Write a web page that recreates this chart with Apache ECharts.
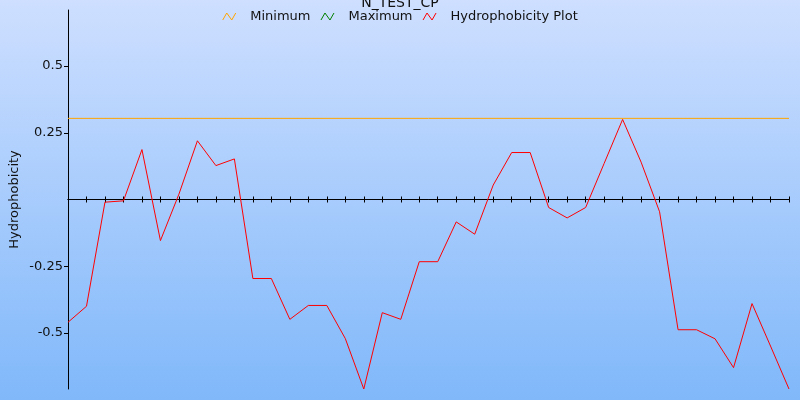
<!DOCTYPE html>
<html>
<head>
<meta charset="utf-8">
<script src="https://cdn.jsdelivr.net/npm/echarts@6/dist/echarts.min.js"></script>
<style>
html,body{margin:0;padding:0;}
#chart{width:800px;height:400px;}
</style>
</head>
<body>
<div id="chart"></div>
<script>
var titleText = 'N_TEST_CP';
var seriesNames = ['Minimum', 'Maximum', 'Hydrophobicity Plot'];
var positions = [1,2,3,4,5,6,7,8,9,10,11,12,13,14,15,16,17,18,19,20,21,22,23,24,25,26,27,28,29,30,31,32,33,34,35,36,37,38,39,40];
var hydrophobicity = [-0.46, -0.40, -0.01, -0.005, 0.187, -0.154, 0.02, 0.22, 0.127, 0.152,
  -0.296, -0.296, -0.449, -0.397, -0.397, -0.521, -0.71, -0.424, -0.449, -0.233,
  -0.233, -0.084, -0.130, 0.054, 0.176, 0.176, -0.030, -0.069, -0.030, 0.135,
  0.30, 0.14, -0.046, -0.488, -0.488, -0.522, -0.63, -0.39, -0.549, -0.71];
var minimumValue = 0.304;
var yMin = -0.71, yMax = 0.71;
var yTickValues = [-0.5, -0.25, 0.25, 0.5];
var yTickLabels = ['-0.5', '-0.25', '0.25', '0.5'];
var colors = ['#ffa500', '#008000', '#ff0000'];

var FONT = 'DejaVu Sans';
var zig = 'path://M0,7 L4,0 L9,7 L13,0';
var chart = echarts.init(document.getElementById('chart'));
function xAxisOf(pos) {
  return {
    type: 'category', data: positions, boundaryGap: false, position: pos,
    axisLine: {onZero: true, onZeroAxisIndex: 0, lineStyle: {color: '#000', width: 1}},
    axisTick: {show: true, interval: 0, length: 3, lineStyle: {color: '#000'}},
    axisLabel: {show: false}, splitLine: {show: false}
  };
}
var lastIndex = positions.length - 1;
chart.setOption({
  animation: false,
  backgroundColor: new echarts.graphic.LinearGradient(0, 0, 0, 1, [
    {offset: 0, color: '#cedfff'}, {offset: 1, color: '#80b8fa'}
  ]),
  title: {text: titleText, left: 'center', top: -4, padding: 0,
    textStyle: {fontFamily: FONT, fontSize: 14, fontWeight: 'normal', color: '#111'}},
  legend: {
    top: 10, left: 'center', padding: 0, itemGap: 10, itemWidth: 32, itemHeight: 7,
    icon: zig,
    textStyle: {fontFamily: FONT, fontSize: 13, color: '#111'},
    data: seriesNames.map(function (n, i) {
      return {name: n, icon: zig, itemStyle: {color: 'transparent', borderColor: colors[i], borderWidth: 1}};
    })
  },
  grid: {left: 68, right: 11, top: 10, bottom: 11, containLabel: false, outerBoundsMode: 'none'},
  xAxis: [xAxisOf('bottom'), xAxisOf('top')],
  yAxis: {
    type: 'value', min: yMin, max: yMax,
    name: 'Hydrophobicity', nameLocation: 'middle', nameGap: 47, nameMoveOverlap: false,
    nameTextStyle: {fontFamily: FONT, fontSize: 13, color: '#111'},
    axisLine: {show: true, onZero: false, lineStyle: {color: '#000', width: 1}},
    axisTick: {show: true, length: 4, customValues: yTickValues, lineStyle: {color: '#000'}},
    axisLabel: {show: true, customValues: yTickValues, margin: 5,
      fontFamily: FONT, fontSize: 13, color: '#111',
      formatter: function (v) { var k = yTickValues.indexOf(v); return k >= 0 ? yTickLabels[k] : ''; }},
    splitLine: {show: false}
  },
  series: [
    {name: seriesNames[0], type: 'line', color: colors[0], symbol: 'none',
      lineStyle: {color: colors[0], width: 1},
      data: [[0, minimumValue], [lastIndex, minimumValue]]},
    {name: seriesNames[1], type: 'line', data: [], color: colors[1], symbol: 'none'},
    {name: seriesNames[2], type: 'line', data: hydrophobicity, color: colors[2], symbol: 'none',
      lineStyle: {color: colors[2], width: 1}}
  ]
});
</script>
</body>
</html>
